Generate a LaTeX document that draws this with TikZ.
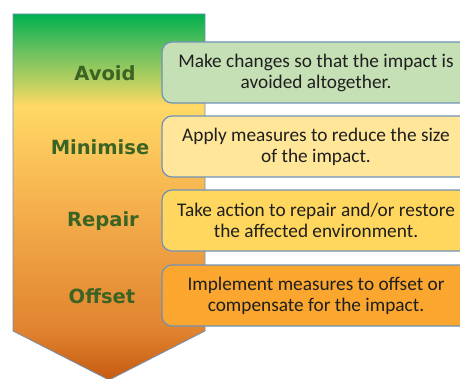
\documentclass[tikz,border=0pt]{standalone}
\usepackage{fontspec}
\setmainfont{Carlito}
\newfontfamily\stagefont{DejaVu Sans}

\definecolor{grnA}{HTML}{00B04E}
\definecolor{grnB}{HTML}{5CBE5E}
\definecolor{grnC}{HTML}{C2D160}
\definecolor{yelA}{HTML}{FFD966}
\definecolor{orA}{HTML}{F6B24E}
\definecolor{orB}{HTML}{E0832F}
\definecolor{orC}{HTML}{C55A11}
\definecolor{lbl}{HTML}{3B6323}
\definecolor{edge}{HTML}{7092B8}
\definecolor{box1}{HTML}{C5E0B4}
\definecolor{box2}{HTML}{FFE699}
\definecolor{box3}{HTML}{FFD75E}
\definecolor{box4}{HTML}{FBA62E}

\pgfdeclareverticalshading{hierarchy}{100bp}{color(0bp)=(orC); color(25bp)=(orC);
  color(31.7bp)=(orB); color(49.5bp)=(orA); color(62.5bp)=(yelA);
  color(65.3bp)=(grnC); color(70.7bp)=(grnB); color(75bp)=(grnA); color(100bp)=(grnA)}

\tikzset{
  stage/.style={font=\stagefont\fontsize{19.5}{22}\selectfont\bfseries, text=lbl},
  action/.style={draw=edge, line width=1.2pt, rounded corners=10pt,
    minimum width=308pt, minimum height=61pt, align=center,
    font=\fontsize{19.3}{21}\selectfont, text=black!88},
}

\begin{document}
\begin{tikzpicture}[x=1pt, y=-1pt]
\useasboundingbox (0,0) rectangle (460,379);
\clip (0,0) rectangle (460,379);

% arrow
\shade[shading=hierarchy, draw=edge, line width=0.8pt]
  (13,14) -- (205,14) -- (205,331) -- (109,380) -- (13,331) -- cycle;

\node[stage] (avoid) at (105,73) {Avoid};
\node[stage] (minimise) at (100,147) {Minimise};
\node[stage] (repair) at (103,221) {Repair};
\node[stage] (offset) at (102,296) {Offset};

\node[action, fill=box1] (avoidx) at (316,72.5) {Make changes so that the impact is\\avoided altogether.};
\node[action, fill=box2] (minimisex) at (316,146.5) {Apply measures to reduce the size\\of the impact.};
\node[action, fill=box3] (repairx) at (316,220.5) {Take action to repair and/or restore\\the affected environment.};
\node[action, fill=box4] (offsetx) at (316,295.5) {Implement measures to offset or\\compensate for the impact.};

\end{tikzpicture}
\end{document}
